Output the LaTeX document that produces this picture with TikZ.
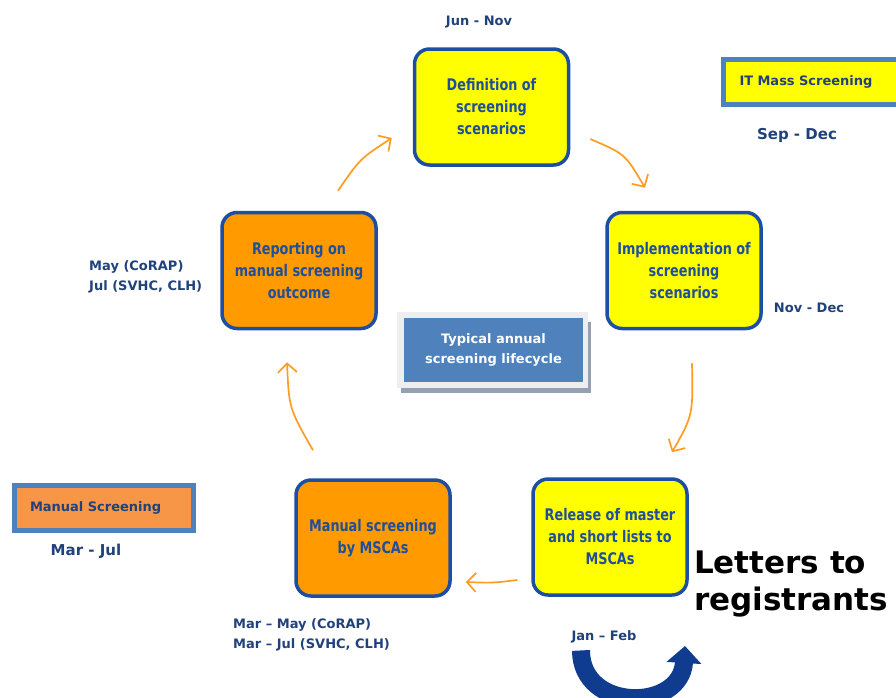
\documentclass[tikz,border=0pt]{standalone}
\usepackage{fontspec}
\setmainfont{DejaVu Sans}
\newfontfamily\boxfont{DejaVu Sans}[FakeStretch=0.8]
\usepackage{xcolor}
\usepackage{tikz}
\usetikzlibrary{arrows.meta,calc}
\definecolor{boxborder}{HTML}{1C4FA3}
\definecolor{boxtext}{HTML}{1F4E9B}
\definecolor{labeltext}{HTML}{21417A}
\definecolor{stepyellow}{HTML}{FFFF00}
\definecolor{steporange}{HTML}{FF9A00}
\definecolor{legendorange}{HTML}{F79646}
\definecolor{legendblue}{HTML}{4F81BD}
\definecolor{arroworange}{HTML}{FF9C22}
\definecolor{turnblue}{HTML}{0F3C8E}
\definecolor{framegray}{HTML}{EEEEEE}
\definecolor{shadowgray}{HTML}{95A1B3}
\tikzset{
    stagebox/.style={
        draw=boxborder, line width=3.5pt, rounded corners=15pt,
        minimum width=154pt, minimum height=116pt, inner sep=0pt,
        text=boxtext, align=center,
        font=\boxfont\bfseries\fontsize{16}{22}\selectfont
    },
    stageyellow/.style={stagebox, fill=stepyellow},
    stageorange/.style={stagebox, fill=steporange},
    legendbox/.style={
        draw=legendblue, line width=5pt, inner xsep=16pt, inner ysep=0pt,
        minimum height=45pt, align=left, text=labeltext,
        font=\bfseries\fontsize{13}{16}\selectfont
    },
    period/.style={
        text=labeltext, inner sep=0pt,
        font=\bfseries\fontsize{13}{20}\selectfont
    },
    periodbig/.style={period, font=\bfseries\fontsize{15}{20}\selectfont},
    cyclearrow/.style={-{Straight Barb[length=9pt,width=19pt]}, line width=1.7pt, color=arroworange},
}
\begin{document}
\begin{tikzpicture}[x=1pt, y=-1pt]
    \useasboundingbox (0,0) rectangle (896,697);
    % stages of the cycle
    \node[stageyellow] (define) at (491.5,107) {Definition of\\screening\\scenarios};
    \node[stageyellow] (implement) at (684,270.5) {Implementation of\\screening\\scenarios};
    \node[stageyellow] (release) at (610,537) {Release of master\\and short lists to\\MSCAs};
    \node[stageorange] (manual) at (373,538) {Manual screening\\by MSCAs};
    \node[stageorange] (report) at (299,270.5) {Reporting on\\manual screening\\outcome};
    % centre caption with shadow
    \fill[shadowgray] (401,322) rectangle (591,393);
    \fill[framegray] (397,312) rectangle (588,388);
    \node[fill=legendblue, minimum width=179pt, minimum height=64pt, inner sep=0pt,
        text=white, align=center, font=\bfseries\fontsize{13}{20}\selectfont]
        (caption) at (493.5,350) {Typical annual\\screening lifecycle};
    % legend
    \node[legendbox, fill=stepyellow, text width=160pt, anchor=west] (itlegend) at (721,81.5) {IT Mass Screening};
    \node[periodbig] (itperiod) at (797,135) {Sep - Dec};
    \node[legendbox, fill=legendorange, text width=147pt] (manuallegend) at (103.5,508) {Manual Screening};
    \node[periodbig] (manualperiod) at (86,551) {Mar - Jul};
    % periods
    \node[period] (defineperiod) at (479,22) {Jun - Nov};
    \node[period] (implementperiod) at (809,308) {Nov - Dec};
    \node[period, align=left, anchor=west] (reportperiod) at (89,277) {May (CoRAP)\\Jul (SVHC, CLH)};
    \node[period, align=left, anchor=west] (manualperiodb) at (233,634.5) {Mar – May (CoRAP)\\Mar – Jul (SVHC, CLH)};
    \node[period] (releaseperiod) at (604,637) {Jan – Feb};
    \node[inner sep=0pt, align=left, anchor=west, font=\bfseries\fontsize{31}{37}\selectfont]
        (letters) at (694,584) {Letters to\\registrants};
    % cycle arrows
    \draw[cyclearrow] ($(report.north)+(39,-20)$) .. controls ($(report.north)+(61,-52)$) .. ($(define.west)+(-21,31)$);
    \draw[cyclearrow] ($(define.east)+(20,32)$) .. controls ($(define.east)+(55,47)$) .. ($(implement.north)+(-39,-23)$);
    \draw[cyclearrow] ($(implement.south)+(8,33)$) .. controls ($(implement.south)+(9,85)$) .. ($(release.north)+(62,-25)$);
    \draw[cyclearrow] ($(release.west)+(-14,43)$) .. controls ($(release.west)+(-39,46)$) .. ($(manual.east)+(14,44)$);
    \draw[cyclearrow] ($(manual.north)+(-60,-28)$) .. controls ($(manual.north)+(-84,-70)$) .. ($(report.south)+(-12,32)$);
    % turn arrow under the release stage
    \coordinate (turnend) at (685,646);
    \draw[turnblue, line width=18pt, -{Triangle[length=17pt,width=34pt]}]
        ($(releaseperiod.south)+(-23,7)$) .. controls (581,712) and (681,712) .. (turnend);
\end{tikzpicture}
\end{document}
